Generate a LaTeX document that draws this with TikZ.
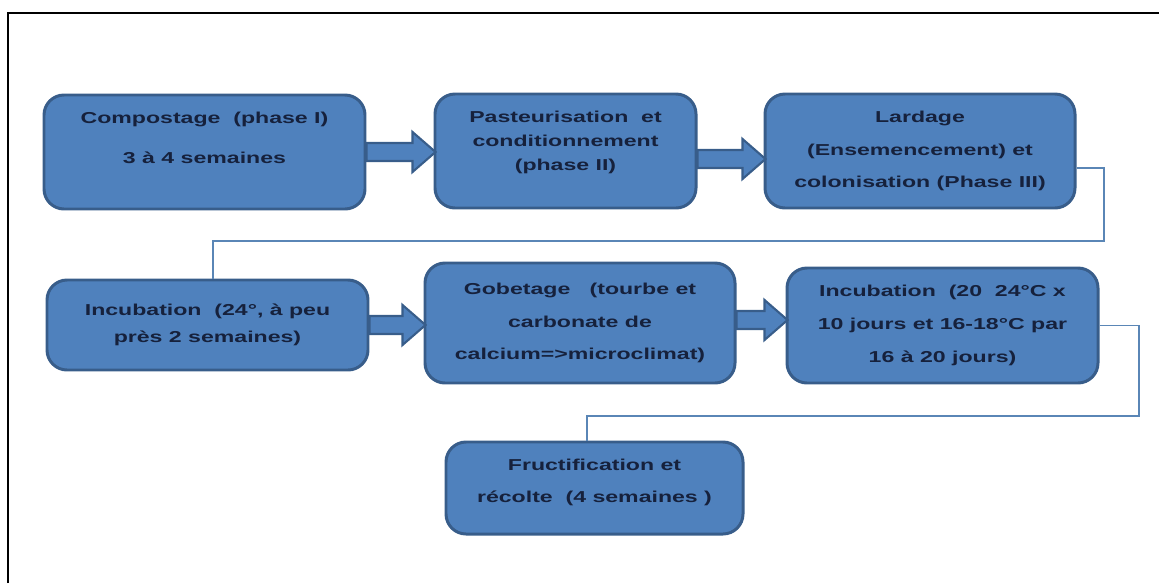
\documentclass[tikz,border=0pt]{standalone}
\usepackage{fontspec}
\usepackage{tikz}
\usetikzlibrary{calc}
\newfontfamily\stepfont{Liberation Sans}[FakeStretch=1.46]
\definecolor{boxfill}{HTML}{4F81BD}
\definecolor{boxedge}{HTML}{385D8A}
\definecolor{boxtext}{HTML}{16213C}
\definecolor{linkcol}{HTML}{5A86B6}
\tikzset{
	stepbox/.style={draw=boxedge, fill=boxfill, line width=1.7pt, rounded corners=0.4cm, align=center, text=boxtext, inner sep=0pt},
	stepfont/.style={font=\stepfont\bfseries\fontsize{9}{#1}\selectfont},
	blockarrow/.style={draw=boxedge, fill=boxfill, line width=1.2pt, line join=miter},
	link/.style={draw=linkcol, line width=1.1pt}
}
\newcommand\blockarrow[3]{\path ($(#1.east)+(0,#3)$) coordinate (ba) (ba -| #2.west) coordinate (bb);
	\draw[blockarrow] ($(ba)+(0,0.18)$) -- ($(bb)+(-0.42,0.18)$) -- ($(bb)+(-0.42,0.4)$) -- ($(bb)+(0.04,0)$) -- ($(bb)+(-0.42,-0.4)$) -- ($(bb)+(-0.42,-0.18)$) -- ($(ba)+(0,-0.18)$) -- cycle;}

\begin{document}
\begin{tikzpicture}
		%%%%% START %%%%%
		\useasboundingbox (0,0) rectangle (23.18,-11.66);
		\draw[line width=1.4pt] (0.16,-11.66) -- (0.16,-0.26) -- (23.18,-0.26);
		
		% first row
		\node[stepbox, stepfont=22.7pt, minimum width=6.42cm, minimum height=2.28cm, text depth=0.56cm] (compost) at (4.09,-3.04) {Compostage\ \ (phase I)\\3 à 4 semaines};
		\node[stepbox, stepfont=13.6pt, minimum width=5.22cm, minimum height=2.28cm, text depth=0.42cm] (pasteur) at (11.31,-3.02) {Pasteurisation\ \ et\\conditionnement\\(phase II)};
		\node[stepbox, stepfont=18.7pt, minimum width=6.2cm, minimum height=2.28cm] (lardage) at (18.4,-3.02) {Lardage\\(Ensemencement) et\\colonisation\ (Phase III)};
		
		% second row
		\node[stepbox, stepfont=15.3pt, minimum width=6.42cm, minimum height=1.8cm] (incubA) at (4.15,-6.5) {Incubation\ \ (24°, à peu\\près 2 semaines)};
		\node[stepbox, stepfont=18.7pt, minimum width=6.2cm, minimum height=2.4cm] (gobetage) at (11.6,-6.46) {Gobetage\ \ \ (tourbe et\\carbonate de\\calcium=>microclimat)};
		\node[stepbox, stepfont=18.7pt, minimum width=6.22cm, minimum height=2.3cm] (incubB) at (18.85,-6.51) {Incubation\ \ (20\ \ 24°C x\\10 jours et 16-18°C par\\16 à 20 jours)};
		
		% last row
		\node[stepbox, stepfont=18.2pt, minimum width=5.94cm, minimum height=1.84cm, text depth=0.3cm] (fructif) at (11.89,-9.76) {Fructification et\\récolte\ \ (4 semaines )};
		
		\blockarrow{compost}{pasteur}{0}
		\blockarrow{pasteur}{lardage}{-0.16}
		\blockarrow{incubA}{gobetage}{0}
		\blockarrow{gobetage}{incubB}{0.06}
		
		\coordinate (turnA) at (22.08,-4.82);
		\coordinate (turnB) at (4.26,-4.82);
		\draw[link] ($(lardage.east)+(0,-0.34)$) -| (turnA) -- (turnB) -- (turnB |- incubA.north);
		
		\coordinate (turnC) at (22.78,-8.32);
		\coordinate (turnD) at (11.74,-8.32);
		\draw[link] (incubB.east) -| (turnC) -- (turnD) -- (turnD |- fructif.north);
		%%%%% END %%%%%
	\end{tikzpicture}
\end{document}
